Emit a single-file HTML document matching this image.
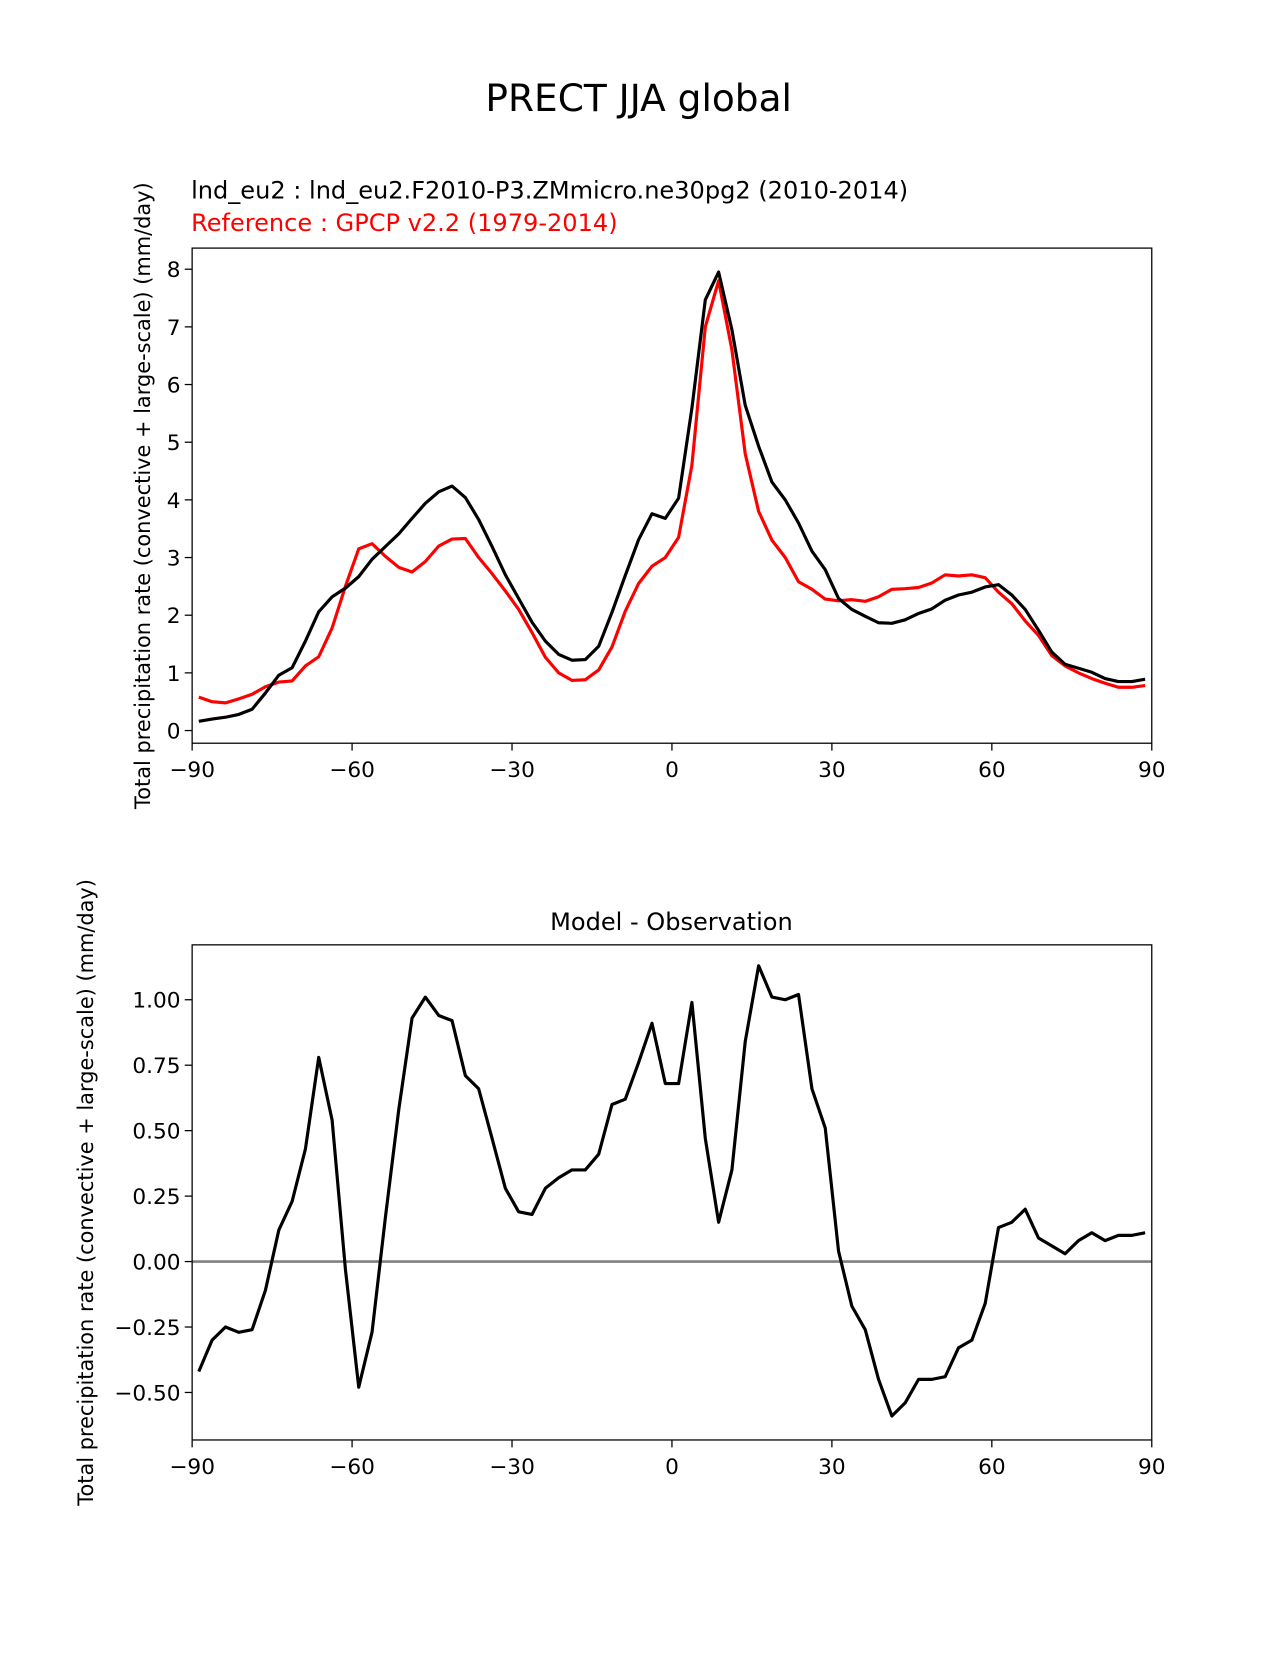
<!DOCTYPE html>
<html><head><meta charset="utf-8"><style>
body{margin:0;background:#fff;}
svg text{font-family:"DejaVu Sans","Liberation Sans",sans-serif;}
</style></head><body>
<svg id="fig" width="1275" height="1650" xmlns="http://www.w3.org/2000/svg">
<rect width="1275" height="1650" fill="#fff"/>
<g transform="scale(1.0557)">
<text x="605" y="105" font-size="35.5" text-anchor="middle">PRECT JJA global</text>
<text x="181" y="188" font-size="22.8">lnd_eu2 : lnd_eu2.F2010-P3.ZMmicro.ne30pg2 (2010-2014)</text>
<text x="181" y="219" font-size="22.8" fill="#ff0000">Reference : GPCP v2.2 (1979-2014)</text>
<text x="636" y="881" font-size="22.8" text-anchor="middle">Model - Observation</text>
<g id="top"></g>
<g id="bot"></g>
</g>
</svg>
<script>
const lats = [];
for (let i = 0; i < 72; i++) lats.push(-88.75 + 2.5 * i);
const refValues = [0.58,0.50,0.48,0.55,0.63,0.76,0.84,0.86,1.12,1.28,1.78,2.5,3.15,3.24,3.02,2.83,2.75,2.93,3.2,3.32,3.33,3.0,2.72,2.42,2.1,1.7,1.27,1.0,0.87,0.88,1.05,1.45,2.07,2.55,2.85,3.0,3.35,4.6,7.0,7.8,6.6,4.8,3.8,3.3,3.0,2.58,2.45,2.28,2.25,2.27,2.24,2.32,2.45,2.46,2.48,2.56,2.70,2.68,2.70,2.65,2.4,2.2,1.9,1.65,1.3,1.12,1.0,0.9,0.82,0.75,0.75,0.78];
const diffValues = [-0.42,-0.30,-0.25,-0.27,-0.26,-0.11,0.12,0.23,0.43,0.78,0.54,-0.03,-0.48,-0.27,0.17,0.58,0.93,1.01,0.94,0.92,0.71,0.66,0.47,0.28,0.19,0.18,0.28,0.32,0.35,0.35,0.41,0.60,0.62,0.76,0.91,0.68,0.68,0.99,0.47,0.15,0.35,0.84,1.13,1.01,1.00,1.02,0.66,0.51,0.04,-0.17,-0.26,-0.45,-0.59,-0.54,-0.45,-0.45,-0.44,-0.33,-0.30,-0.16,0.13,0.15,0.20,0.09,0.06,0.03,0.08,0.11,0.08,0.10,0.10,0.11];
const xTicks = [-90,-60,-30,0,30,60,90];
const xTickLabels = ["\u221290","\u221260","\u221230","0","30","60","90"];
const topYTicks = [0,1,2,3,4,5,6,7,8];
const botYTicks = [-0.5,-0.25,0,0.25,0.5,0.75,1.0];
const modelValues = refValues.map((v,i)=>v+diffValues[i]);

const NS="http://www.w3.org/2000/svg";
function mk(parent,tag,attrs,text){const e=document.createElementNS(NS,tag);for(const k in attrs)e.setAttribute(k,attrs[k]);if(text!==undefined)e.textContent=text;parent.appendChild(e);return e;}
const X0=182,X1=1091;
const xs=v=>X0+(v+90)/180*(X1-X0);

function axes(g,top,bottom,ys,yTicks,yfmt,ylab,ylabX){
  for(let i=0;i<xTicks.length;i++){
    const x=xs(xTicks[i]);
    const t=mk(g,'line',{x1:x,x2:x,y1:bottom,y2:bottom+7,stroke:'#000','stroke-width':1.2});
    
    
    const l=mk(g,'text',{x:x,y:bottom+32,'font-size':20.5,'text-anchor':'middle'},xTickLabels[i]);
    
    
  }
  for(const v of yTicks){
    const y=ys(v);
    const t=mk(g,'line',{x1:X0-7,x2:X0,y1:y,y2:y,stroke:'#000','stroke-width':1.2});
    
    
    const l=mk(g,'text',{x:X0-11,y:y+7.5,'font-size':20.5,'text-anchor':'end'},yfmt(v));
    
    
  }
  const cy=(top+bottom)/2;
  const yl=mk(g,'text',{x:ylabX,y:cy,'font-size':19.8,'text-anchor':'middle',transform:`rotate(-90 ${ylabX} ${cy})`},ylab);
  
  
}
function line(g,vals,ys,color,name){
  const d=vals.map((v,i)=>(i?'L':'M')+xs(lats[i]).toFixed(1)+' '+ys(v).toFixed(1)).join(' ');
  const p=mk(g,'path',{d:d,fill:'none',stroke:color,'stroke-width':3,'stroke-linejoin':'round'});
  
  
}
const YLAB="Total precipitation rate (convective + large-scale) (mm/day)";
const gt=document.getElementById('top');
const T0=235,T1=704;
const yt=v=>692-v*(692-255)/8;
axes(gt,T0,T1,yt,topYTicks,v=>String(v),YLAB,142);
line(gt,refValues,yt,'#ff0000','reference-line');
line(gt,modelValues,yt,'#000000','model-line');
const f1=mk(gt,'rect',{x:X0,y:T0,width:X1-X0,height:T1-T0,fill:'none',stroke:'#000','stroke-width':1.2});


const gb=document.getElementById('bot');
const B0=895,B1=1364;
const yb=v=>1195-v*(1195-947);
axes(gb,B0,B1,yb,botYTicks,v=>(v<0?'\u2212':'')+Math.abs(v).toFixed(2),YLAB,88);
const zl=mk(gb,'line',{x1:X0,x2:X1,y1:yb(0),y2:yb(0),stroke:'#808080','stroke-width':2.4});


line(gb,diffValues,yb,'#000000','difference-line');
const f2=mk(gb,'rect',{x:X0,y:B0,width:X1-X0,height:B1-B0,fill:'none',stroke:'#000','stroke-width':1.2});


</script>
</body></html>
